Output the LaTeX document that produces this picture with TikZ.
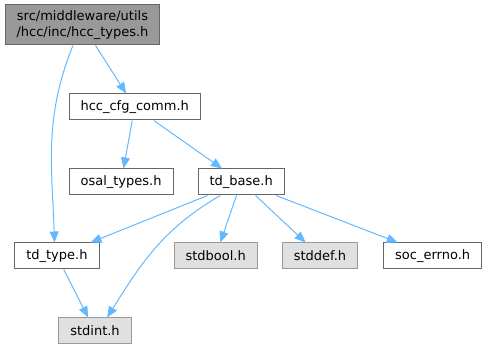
\documentclass[tikz,border=0pt]{standalone}
\usepackage{fontspec}
\setmainfont{DejaVu Sans}
\usetikzlibrary{positioning, arrows.meta}
\definecolor{edgeblue}{HTML}{63B8FF}
\definecolor{rootfill}{HTML}{999999}
\definecolor{sysfill}{HTML}{E0E0E0}
\begin{document}
\begin{tikzpicture}[
      x=1pt, y=-1pt,
      node distance = 48pt and 24pt,
      file/.style = {draw=black!60, fill=white, line width=1pt, font=\fontsize{13}{16}\selectfont,
                     inner xsep=11.5pt, inner ysep=0pt, minimum height=26pt, anchor=center},
      root/.style = {file, fill=rootfill, align=center, minimum height=40pt},
      sys/.style  = {file, draw=black!40, fill=sysfill},
      arr/.style  = {-{Triangle[length=11pt, width=9pt]}, draw=edgeblue, line width=1pt}]
    \useasboundingbox (0,0) rectangle (482,344);
    % top: the header itself and what it pulls in
    \node[root] (types) at (82.5,25) {src/middleware/utils\\/hcc/inc/hcc\_types.h};
    \node[file, below=of types.south west, anchor=north west, xshift=64pt] (cfg) {hcc\_cfg\_comm.h};
    \node[file, below=of cfg.south west, anchor=north west] (osal) {osal\_types.h};
    \node[file, right=of osal] (base) {td\_base.h};
    % row of headers under td_base.h
    \node[sys, below=47pt of base.south west, anchor=north west, xshift=-24pt] (bool) {stdbool.h};
    \node[sys, right=of bool]  (def)   {stddef.h};
    \node[file, right=25pt of def] (errno) {soc\_errno.h};
    \node[file, left=74pt of bool] (tdtype) {td\_type.h};
    \node[sys, below=of tdtype.south west, anchor=north west, xshift=44pt] (stdint) {stdint.h};
    \draw[arr] (types) -- (cfg);
    \draw[arr] (types.-115) to[out=-112, in=92] (tdtype.100);
    \draw[arr] (cfg) -- (osal);
    \draw[arr] (cfg) -- (base);
    \draw[arr] (base) -- (tdtype);
    \draw[arr] (base.-147) to[out=-150, in=58] (stdint.48);
    \draw[arr] (base) -- (bool);
    \draw[arr] (base) -- (def);
    \draw[arr] (base) -- (errno);
    \draw[arr] (tdtype) -- (stdint);
  \end{tikzpicture}
\end{document}
